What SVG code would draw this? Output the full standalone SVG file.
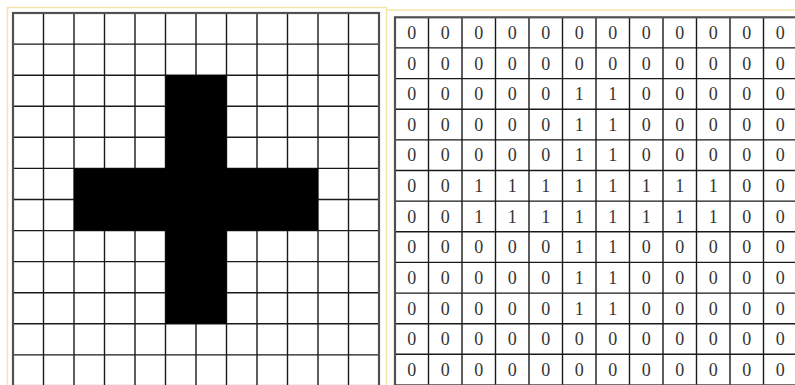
<svg xmlns="http://www.w3.org/2000/svg" width="795" height="385" viewBox="0 0 795 385">
<style>
.frame{fill:none;stroke:#f5e4a8;stroke-width:1.5}
.grid{fill:none;stroke:#1a1a1a;stroke-width:1.4}
.border{fill:none;stroke:#505050;stroke-width:2.2}
.d{font-family:"Liberation Serif",serif;font-size:18px;fill:#333;text-anchor:middle}
</style>
<rect width="795" height="385" fill="#fff"/>
<g id="frames">
<path class="frame" d="M7.5 390V7.5H386.5V390"/>
<path class="frame" d="M386.5 10H795"/>
</g>
<g id="pixel-grid">
<path class="grid" d="M43.5 13V386M74 13V386M104.5 13V386M135 13V386M165.5 13V386M196 13V386M226.5 13V386M257 13V386M287.5 13V386M318 13V386M348.5 13V386M13 44.1H379M13 75.2H379M13 106.2H379M13 137.3H379M13 168.4H379M13 199.5H379M13 230.6H379M13 261.6H379M13 292.7H379M13 323.8H379M13 354.9H379"/>
<rect x="165.5" y="75.2" width="61" height="248.6" fill="#000"/>
<rect x="74" y="168.4" width="244" height="62.2" fill="#000"/>
<rect class="border" x="13" y="13" width="366" height="373"/>
</g>
<g id="matrix-grid">
<path class="grid" d="M428.5 17.3V385M462 17.3V385M495.5 17.3V385M529 17.3V385M562.5 17.3V385M596 17.3V385M629.5 17.3V385M663 17.3V385M696.5 17.3V385M730 17.3V385M763.5 17.3V385M395 47.9H797M395 78.6H797M395 109.2H797M395 139.9H797M395 170.5H797M395 201.1H797M395 231.8H797M395 262.4H797M395 293.1H797M395 323.7H797M395 354.3H797"/>
<rect class="border" x="395" y="17.3" width="402" height="368"/>
</g>
<g id="matrix-values">
<text class="d" y="38.8"><tspan x="411.75">0</tspan><tspan x="445.25">0</tspan><tspan x="478.75">0</tspan><tspan x="512.25">0</tspan><tspan x="545.75">0</tspan><tspan x="579.25">0</tspan><tspan x="612.75">0</tspan><tspan x="646.25">0</tspan><tspan x="679.75">0</tspan><tspan x="713.25">0</tspan><tspan x="746.75">0</tspan><tspan x="780.25">0</tspan></text>
<text class="d" y="69.5"><tspan x="411.75">0</tspan><tspan x="445.25">0</tspan><tspan x="478.75">0</tspan><tspan x="512.25">0</tspan><tspan x="545.75">0</tspan><tspan x="579.25">0</tspan><tspan x="612.75">0</tspan><tspan x="646.25">0</tspan><tspan x="679.75">0</tspan><tspan x="713.25">0</tspan><tspan x="746.75">0</tspan><tspan x="780.25">0</tspan></text>
<text class="d" y="100.1"><tspan x="411.75">0</tspan><tspan x="445.25">0</tspan><tspan x="478.75">0</tspan><tspan x="512.25">0</tspan><tspan x="545.75">0</tspan><tspan x="579.25">1</tspan><tspan x="612.75">1</tspan><tspan x="646.25">0</tspan><tspan x="679.75">0</tspan><tspan x="713.25">0</tspan><tspan x="746.75">0</tspan><tspan x="780.25">0</tspan></text>
<text class="d" y="130.7"><tspan x="411.75">0</tspan><tspan x="445.25">0</tspan><tspan x="478.75">0</tspan><tspan x="512.25">0</tspan><tspan x="545.75">0</tspan><tspan x="579.25">1</tspan><tspan x="612.75">1</tspan><tspan x="646.25">0</tspan><tspan x="679.75">0</tspan><tspan x="713.25">0</tspan><tspan x="746.75">0</tspan><tspan x="780.25">0</tspan></text>
<text class="d" y="161.4"><tspan x="411.75">0</tspan><tspan x="445.25">0</tspan><tspan x="478.75">0</tspan><tspan x="512.25">0</tspan><tspan x="545.75">0</tspan><tspan x="579.25">1</tspan><tspan x="612.75">1</tspan><tspan x="646.25">0</tspan><tspan x="679.75">0</tspan><tspan x="713.25">0</tspan><tspan x="746.75">0</tspan><tspan x="780.25">0</tspan></text>
<text class="d" y="192.0"><tspan x="411.75">0</tspan><tspan x="445.25">0</tspan><tspan x="478.75">1</tspan><tspan x="512.25">1</tspan><tspan x="545.75">1</tspan><tspan x="579.25">1</tspan><tspan x="612.75">1</tspan><tspan x="646.25">1</tspan><tspan x="679.75">1</tspan><tspan x="713.25">1</tspan><tspan x="746.75">0</tspan><tspan x="780.25">0</tspan></text>
<text class="d" y="222.7"><tspan x="411.75">0</tspan><tspan x="445.25">0</tspan><tspan x="478.75">1</tspan><tspan x="512.25">1</tspan><tspan x="545.75">1</tspan><tspan x="579.25">1</tspan><tspan x="612.75">1</tspan><tspan x="646.25">1</tspan><tspan x="679.75">1</tspan><tspan x="713.25">1</tspan><tspan x="746.75">0</tspan><tspan x="780.25">0</tspan></text>
<text class="d" y="253.3"><tspan x="411.75">0</tspan><tspan x="445.25">0</tspan><tspan x="478.75">0</tspan><tspan x="512.25">0</tspan><tspan x="545.75">0</tspan><tspan x="579.25">1</tspan><tspan x="612.75">1</tspan><tspan x="646.25">0</tspan><tspan x="679.75">0</tspan><tspan x="713.25">0</tspan><tspan x="746.75">0</tspan><tspan x="780.25">0</tspan></text>
<text class="d" y="284.0"><tspan x="411.75">0</tspan><tspan x="445.25">0</tspan><tspan x="478.75">0</tspan><tspan x="512.25">0</tspan><tspan x="545.75">0</tspan><tspan x="579.25">1</tspan><tspan x="612.75">1</tspan><tspan x="646.25">0</tspan><tspan x="679.75">0</tspan><tspan x="713.25">0</tspan><tspan x="746.75">0</tspan><tspan x="780.25">0</tspan></text>
<text class="d" y="314.6"><tspan x="411.75">0</tspan><tspan x="445.25">0</tspan><tspan x="478.75">0</tspan><tspan x="512.25">0</tspan><tspan x="545.75">0</tspan><tspan x="579.25">1</tspan><tspan x="612.75">1</tspan><tspan x="646.25">0</tspan><tspan x="679.75">0</tspan><tspan x="713.25">0</tspan><tspan x="746.75">0</tspan><tspan x="780.25">0</tspan></text>
<text class="d" y="345.2"><tspan x="411.75">0</tspan><tspan x="445.25">0</tspan><tspan x="478.75">0</tspan><tspan x="512.25">0</tspan><tspan x="545.75">0</tspan><tspan x="579.25">0</tspan><tspan x="612.75">0</tspan><tspan x="646.25">0</tspan><tspan x="679.75">0</tspan><tspan x="713.25">0</tspan><tspan x="746.75">0</tspan><tspan x="780.25">0</tspan></text>
<text class="d" y="375.9"><tspan x="411.75">0</tspan><tspan x="445.25">0</tspan><tspan x="478.75">0</tspan><tspan x="512.25">0</tspan><tspan x="545.75">0</tspan><tspan x="579.25">0</tspan><tspan x="612.75">0</tspan><tspan x="646.25">0</tspan><tspan x="679.75">0</tspan><tspan x="713.25">0</tspan><tspan x="746.75">0</tspan><tspan x="780.25">0</tspan></text>
</g>
</svg>
